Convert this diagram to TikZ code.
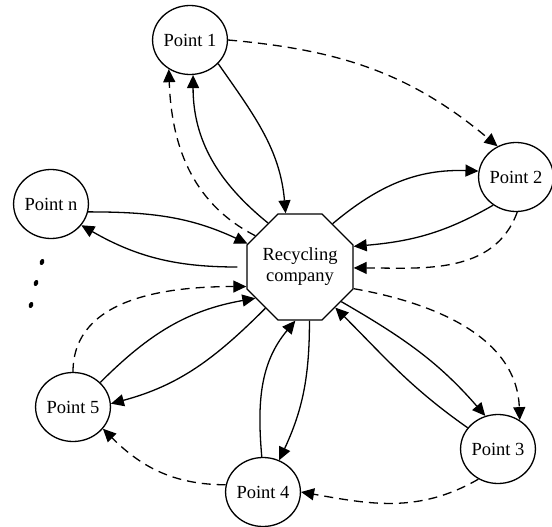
\documentclass[tikz,border=0pt]{standalone}
\usepackage{fontspec}
\setmainfont{Liberation Serif}
\usetikzlibrary{shapes.geometric,arrows.meta}
\tikzstyle{arrow} = [-{Triangle[length=13pt,width=12pt]},line width=1.3pt]
\tikzstyle{darrow} = [arrow,dash pattern=on 9pt off 6pt]
\tikzstyle{point} = [draw,ellipse,line width=1.3pt,minimum width=74pt,minimum height=69pt,inner sep=0pt,font=\fontsize{18.5}{21}\selectfont]
\tikzstyle{hub} = [draw,regular polygon,regular polygon sides=8,minimum size=101pt,inner sep=0pt,line width=1.3pt,align=center,font=\fontsize{18.5}{21}\selectfont]

\begin{document}
\begin{tikzpicture}[x=1pt,y=-1pt]
        \useasboundingbox (0,0) rectangle (552,527);
        \node[hub] at (300,267) (rc) {Recycling\\company};
        \node[point] at (190,40) (p1) {Point 1};
        \node[point] at (516,177) (p2) {Point 2};
        \node[point] at (498,449) (p3) {Point 3};
        \node[point] at (263,492) (p4) {Point 4};
        \node[point] at (73,407) (p5) {Point 5};
        \node[point] at (51,204) (pn) {Point n};

        \draw[arrow] (p1.-40) to [out=-55, in=95] (rc.105);
        \draw[arrow] (rc.126) to [out=141, in=-90] (p1.-85);
        \draw[darrow] (rc.145) to [out=153, in=-88] (p1.-126);
        \draw[darrow] (p1.0) to [out=-5, in=140] (p2.121);
        \draw[arrow] (rc.53) to [out=40, in=178] (p2.171);
        \draw[arrow] (p2.-129) to [out=-150, in=5] (rc.21);
        \draw[darrow] (p2.-88) to [out=-110, in=0] (rc.-1);
        \draw[darrow] (rc.-22) to [out=-10, in=92] (p3.53);
        \draw[arrow] (rc.-40) to [out=-30, in=131] (p3.111);
        \draw[arrow] (p3.145) to [out=145, in=-45] (rc.-49);
        \draw[darrow] (p3.-123) to [out=-150, in=-10] (p4.0);
        \draw[darrow] (p4.169) to [out=180, in=-45] (p5.-36);
        \draw[arrow] (p4.92) to [out=95, in=-130] (rc.-95);
        \draw[arrow] (rc.-80) to [out=-90, in=65] (p4.63);
        \draw[arrow] (p5.42) to [out=45, in=-170] (rc.-145);
        \draw[arrow] (rc.-130) to [out=-135, in=15] (p5.5);
        \draw[darrow] (p5.90) to [out=90, in=180] (rc.-160);
        \draw[arrow] (pn.-12) to [out=0, in=155] (rc.156);
        \draw[arrow, shorten <=9pt] (rc.180) to [out=180, in=-30] (pn.-35);

        % dots between Point n and Point 5
        \foreach \x/\y in {42/262, 36/283, 31/305}
            \fill[rotate around={-20:(\x,\y)}] (\x,\y) ellipse (2.2pt and 3.2pt);
    \end{tikzpicture}
\end{document}
